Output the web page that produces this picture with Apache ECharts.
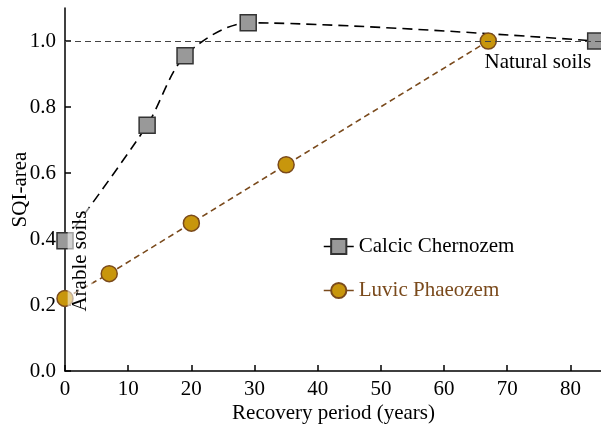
<!DOCTYPE html>
<html><head><meta charset="utf-8">
<script src="https://cdn.jsdelivr.net/npm/echarts@6/dist/echarts.min.js"></script>
<style>html,body{margin:0;padding:0;background:#fff}#c{width:601px;height:427px}</style>
</head><body><div id="c"></div><script>
const chernozemYears = [0, 13, 19, 29, 84];
const chernozemSQI = [0.395, 0.745, 0.955, 1.055, 1.0];
const phaeozemYears = [0, 7, 20, 35, 67];
const phaeozemSQI = [0.22, 0.295, 0.448, 0.625, 1.0];
const xTicks = [0, 10, 20, 30, 40, 50, 60, 70, 80];
const yTicks = [0, 0.2, 0.4, 0.6, 0.8, 1.0];
const seriesNames = ['Calcic Chernozem', 'Luvic Phaeozem'];
const referenceLevel = 1.0;
const arableLabel = 'Arable soils';
const arableAt = [2.4, 0.333];
const naturalLabel = 'Natural soils';

const FONT = 'Liberation Serif';
const FS = 21;
const brown = '#7a4a1c';

const chernozemData = chernozemYears.map((x, i) => [x, chernozemSQI[i]]);
const phaeozemData = phaeozemYears.map((x, i) => {
  const item = { value: [x, phaeozemSQI[i]] };
  if (i === phaeozemYears.length - 1) {
    item.label = {
      show: true, formatter: naturalLabel, position: [5, 20], align: 'left', verticalAlign: 'top',
      fontFamily: FONT, fontSize: FS, color: '#000'
    };
  }
  return item;
});

const chart = echarts.init(document.getElementById('c'), null, { renderer: 'canvas' });
chart.setOption({
  animation: false,
  backgroundColor: '#fff',
  grid: { left: 65, top: 8, width: 537, height: 363, containLabel: false, outerBoundsMode: 'none' },
  legend: {
    orient: 'vertical', left: 318, top: 231, itemWidth: 30, itemHeight: 19, itemGap: 23,
    textStyle: { fontFamily: FONT, fontSize: FS, color: '#000' },
    lineStyle: { type: 'solid', width: 1.5 },
    data: [
      { name: seriesNames[0], textStyle: { color: '#000' } },
      { name: seriesNames[1], textStyle: { color: brown } }
    ]
  },
  xAxis: {
    type: 'value', min: 0, max: 85, interval: 10,
    name: 'Recovery period (years)', nameLocation: 'middle', nameGap: 32, nameMoveOverlap: false,
    nameTextStyle: { fontFamily: FONT, fontSize: FS, color: '#000' },
    axisLine: { lineStyle: { color: '#000', width: 1.5 } },
    axisTick: { inside: true, length: 6, lineStyle: { color: '#000', width: 1.5 }, customValues: xTicks },
    axisLabel: { fontFamily: FONT, fontSize: FS, color: '#000', margin: 8, customValues: xTicks },
    splitLine: { show: false }
  },
  yAxis: {
    type: 'value', min: 0, max: 1.1, interval: 0.2,
    name: 'SQI-area', nameLocation: 'middle', nameGap: 34, nameRotate: 90, nameMoveOverlap: false,
    nameTextStyle: { fontFamily: FONT, fontSize: FS, color: '#000' },
    axisLine: { show: true, lineStyle: { color: '#000', width: 1.5 } },
    axisTick: { show: true, inside: true, length: 6, lineStyle: { color: '#000', width: 1.5 }, customValues: yTicks },
    axisLabel: { fontFamily: FONT, fontSize: FS, color: '#000', margin: 9, customValues: yTicks,
      formatter: v => v.toFixed(1) },
    splitLine: { show: false }
  },
  series: [
    {
      name: seriesNames[0], type: 'line', data: chernozemData, smooth: 0.3,
      symbol: 'rect', symbolSize: 16,
      lineStyle: { color: '#000', width: 1.6, type: [10, 6] },
      itemStyle: { color: '#999999', borderColor: '#333', borderWidth: 1.5 },
      markLine: {
        silent: true, symbol: 'none', label: { show: false },
        lineStyle: { color: '#444', width: 1, type: [6, 4] },
        data: [{ yAxis: referenceLevel }]
      },
      z: 3
    },
    {
      name: seriesNames[1], type: 'line', data: phaeozemData,
      symbol: 'circle', symbolSize: 16,
      lineStyle: { color: brown, width: 1.6, type: [6, 4] },
      itemStyle: { color: '#c8960c', borderColor: brown, borderWidth: 1.5 },
      markPoint: {
        symbol: 'rect', symbolSize: 0, silent: true,
        label: {
          show: true, position: 'inside', rotate: 90, formatter: arableLabel,
          fontFamily: FONT, fontSize: FS, color: '#000',
          backgroundColor: 'rgba(255,255,255,0.55)', padding: [2, 3]
        },
        data: [{ coord: arableAt }],
        z: 10
      },
      z: 4
    }
  ]
});
</script></body></html>
